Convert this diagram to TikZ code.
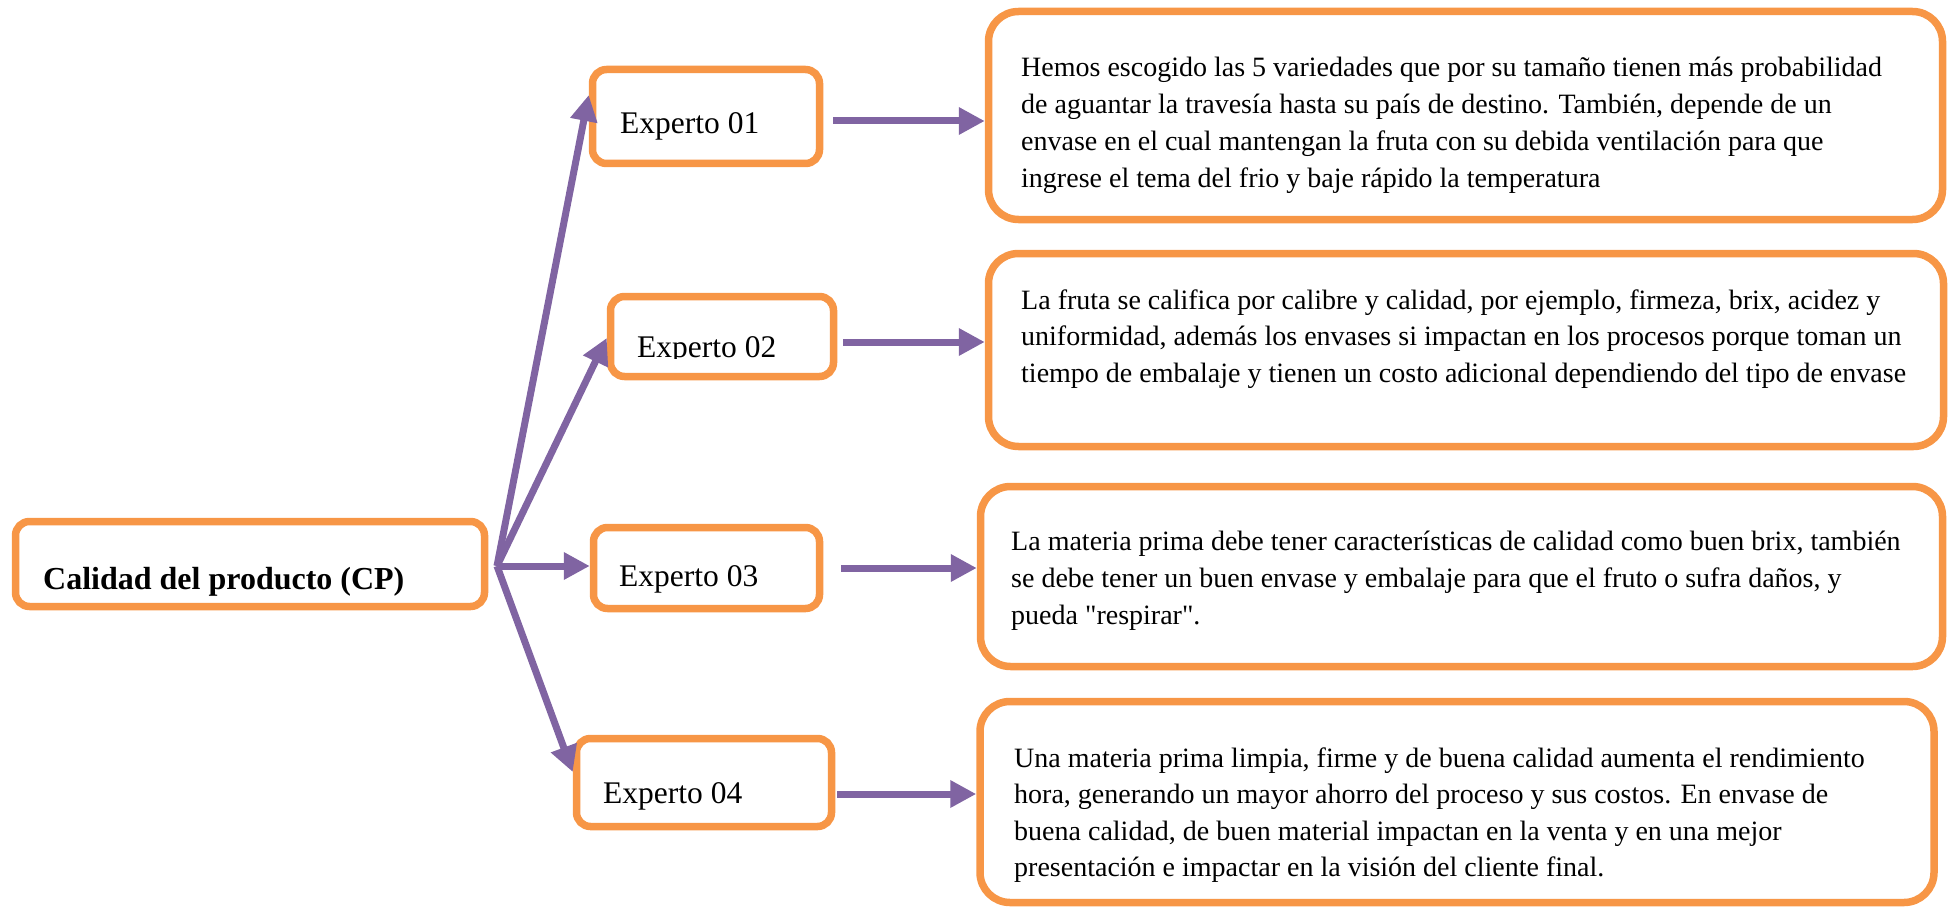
\documentclass[tikz,border=0pt]{standalone}
\usepackage{fontspec}
\setmainfont{Liberation Serif}
\usetikzlibrary{arrows.meta}
\definecolor{borange}{HTML}{F79646}
\definecolor{bpurple}{HTML}{8064A2}
\begin{document}
\begin{tikzpicture}[x=1pt,y=-1pt,
  obox/.style={draw=borange, line width=7.5pt, rounded corners=14pt, fill=white, inner sep=0pt},
  bigbox/.style={obox, rounded corners=30pt},
  txt/.style={inner sep=0pt, align=left, anchor=base west},
  body/.style={txt, font=\fontsize{28}{#1}\selectfont},
  expt/.style={txt, font=\fontsize{31.5}{36}\selectfont},
  arr/.style={draw=bpurple, line width=7pt, -{Triangle[length=26pt,width=26pt]}},
]
\useasboundingbox (0,0) rectangle (1953,912);

% main box
\node[obox, minimum width=469pt, minimum height=85pt] (main) at (250,564) {};
\node[txt, font=\bfseries\fontsize{32}{38}\selectfont] (maintext) at (43,589) {Calidad del producto (CP)};

% expert boxes
\node[obox, minimum width=227pt, minimum height=94pt] (e1) at (706,116.5) {};
\node[obox, minimum width=223pt, minimum height=80pt] (e2) at (722,336.5) {};
\node[obox, minimum width=226pt, minimum height=81pt] (e3) at (706.5,568) {};
\node[obox, minimum width=255pt, minimum height=88pt] (e4) at (704,782.5) {};

\node[expt] (e1t) at (620,134) {Experto 01};
\begin{scope}
  \clip (600,290) rectangle (850,358);
  \node[expt] (e2t) at (637,357) {Experto 02};
\end{scope}
\node[expt] (e3t) at (619,586) {Experto 03};
\node[expt] (e4t) at (603,803) {Experto 04};

% right boxes
\node[bigbox, minimum width=954pt, minimum height=208pt] (r1) at (1465.5,115.5) {};
\node[bigbox, minimum width=955pt, minimum height=193pt] (r2) at (1466,350) {};
\node[bigbox, minimum width=962pt, minimum height=180pt] (r3) at (1461.5,576.5) {};
\node[bigbox, minimum width=954pt, minimum height=201pt] (r4) at (1457,802) {};

% texts: base anchor = baseline of the last line
\node[body=37] (r1t) at (1021,187.5) {Hemos escogido las 5 variedades que por su tamaño tienen más probabilidad\\
de aguantar la travesía hasta su país de destino. También, depende de un\\
envase en el cual mantengan la fruta con su debida ventilación para que\\
ingrese el tema del frio y baje rápido la temperatura};

\node[body=36.5] (r2t) at (1021,382) {La fruta se califica por calibre y calidad, por ejemplo, firmeza, brix, acidez y\\
uniformidad, además los envases si impactan en los procesos porque toman un\\
tiempo de embalaje y tienen un costo adicional dependiendo del tipo de envase};

\node[body=37] (r3t) at (1011,624) {La materia prima debe tener características de calidad como buen brix, también\\
se debe tener un buen envase y embalaje para que el fruto o sufra daños, y\\
pueda \textquotedbl respirar\textquotedbl .};

\node[body=36.5] (r4t) at (1014,876.5) {Una materia prima limpia, firme y de buena calidad aumenta el rendimiento\\
hora, generando un mayor ahorro del proceso y sus costos. En envase de\\
buena calidad, de buen material impactan en la venta y en una mejor\\
presentación e impactar en la visión del cliente final.};

% hub connectors
\coordinate (hub) at (497,566);
\draw[arr] (hub) -- ([yshift=21.5pt]e1.west);
\draw[arr] (hub) -- ([yshift=-1.5pt]e2.west);
\draw[arr] (hub) -- ([yshift=2pt]e3.west);
\draw[arr] (hub) -- ([yshift=10.5pt]e4.west);

% expert to text connectors
\draw[arr, shorten <=10pt] (e1.east |- 0,121) -- (r1.west |- 0,121);
\draw[arr, shorten <=6pt] (e2.east |- 0,342) -- (r2.west |- 0,342);
\draw[arr, shorten <=18pt] (e3.east |- 0,568) -- (r3.west |- 0,568);
\draw[arr, shorten <=2pt] (e4.east |- 0,794) -- (r4.west |- 0,794);
\end{tikzpicture}
\end{document}
